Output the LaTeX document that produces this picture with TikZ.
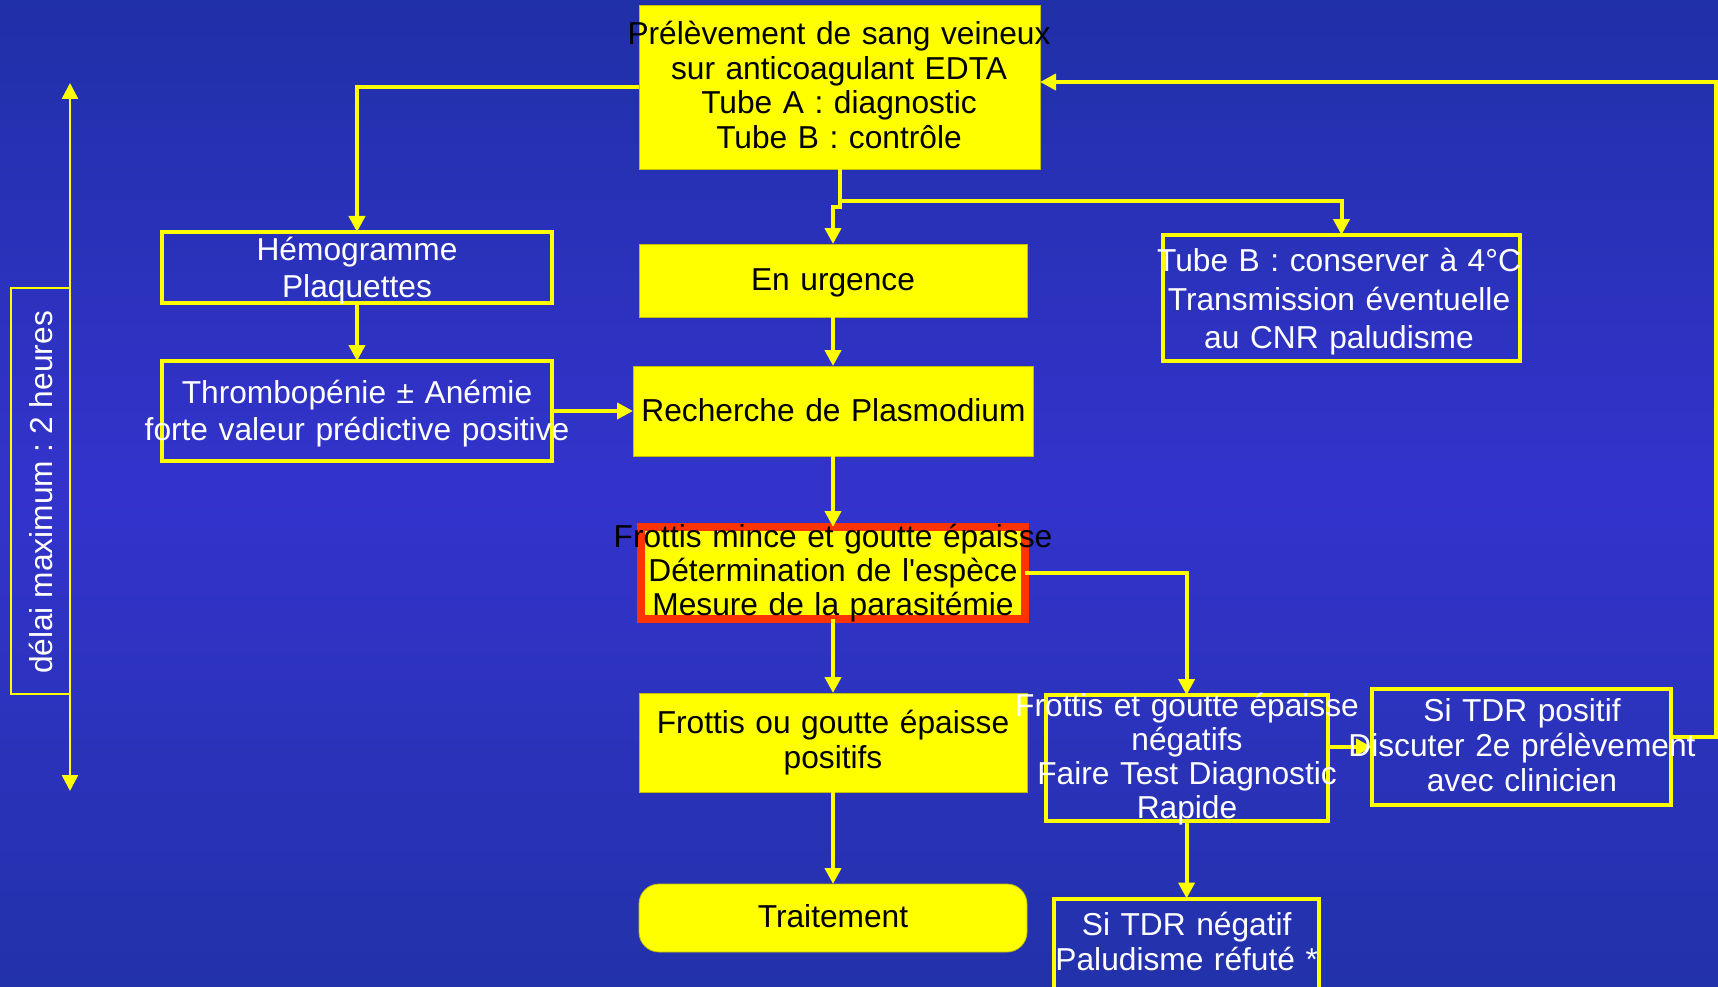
\documentclass[tikz,border=0pt]{standalone}
\usepackage{fontspec}
\setmainfont{Liberation Sans}[Ligatures=TeXOff]
\usetikzlibrary{arrows.meta,calc}
\definecolor{bgtop}{RGB}{32,48,168}
\definecolor{bgmid}{RGB}{51,51,204}
\definecolor{bgbot}{RGB}{34,50,170}
\definecolor{ylw}{RGB}{255,255,0}
\definecolor{redb}{RGB}{255,51,0}
\frenchspacing
\begin{document}
\begin{tikzpicture}[x=1pt,y=-1pt,
  ybox/.style={rectangle,fill=ylw,draw=ylw!75!black,line width=0.8pt,inner sep=0pt,outer sep=0pt},
  wbox/.style={rectangle,draw=ylw,line width=4pt,inner sep=0pt,outer sep=0pt},
  txt/.style={anchor=base,inner sep=0pt,text width=700pt,align=center},
  btxt/.style={txt,text=black,font=\fontsize{31.7}{34.5}\selectfont\frenchspacing},
  wtxt/.style={txt,text=white,font=\fontsize{31.7}{34.5}\selectfont\frenchspacing},
  conn/.style={draw=ylw,line width=4pt,-{Triangle[width=16pt,length=16pt]}},
]
\useasboundingbox (0,0) rectangle (1718,987);
\shade[top color=bgtop,bottom color=bgbot,middle color=bgmid] (0,0) rectangle (1718,987);
\clip (0,0) rectangle (1718,987);

% boxes
\node[ybox,minimum width=401pt,minimum height=164pt] (prel) at (839.5,87) {};
\node[ybox,minimum width=388pt,minimum height=73pt] (urg) at (833,280.5) {};
\node[ybox,minimum width=400pt,minimum height=90pt] (rech) at (833,411) {};
\node[rectangle,fill=ylw,draw=redb,line width=8pt,inner sep=0pt,outer sep=0pt,minimum width=384pt,minimum height=92pt] (frot) at (833,573) {};
\node[ybox,minimum width=388pt,minimum height=99pt] (pos) at (833,742.5) {};
\node[ybox,rounded corners=20pt,minimum width=388pt,minimum height=68pt] (trait) at (833,918) {};
\node[wbox,minimum width=390pt,minimum height=71pt] (hemo) at (357,267.5) {};
\node[wbox,minimum width=390pt,minimum height=100pt] (thrombo) at (357,411) {};
\node[wbox,minimum width=357pt,minimum height=126pt] (tubeB) at (1341.5,298) {};
\node[wbox,minimum width=282pt,minimum height=126pt] (fneg) at (1186.6,758) {};
\node[wbox,minimum width=299pt,minimum height=116pt] (tpos) at (1521.5,747) {};
\node[wbox,minimum width=265pt,minimum height=115pt] (tneg) at (1186.6,956) {};
\node[rectangle,draw=ylw,line width=2pt,inner sep=0pt,minimum width=59pt,minimum height=406pt] (delay) at (40.5,491) {};

% connectors
\coordinate (j1) at (839.5,207);
\coordinate (j2) at (833,207);
\draw[conn] (prel.south) -- (j1) -- (j2) -- (urg.north);
\coordinate (b1) at (839.5,201);
\draw[conn] (b1) -| (tubeB.north);
\draw[conn] (prel.west) -| (hemo.north);
\draw[conn] (hemo.south) -- (thrombo.north);
\draw[conn] (thrombo.east) -- (rech.west);
\draw[conn] (urg.south) -- (rech.north);
\draw[conn] (rech.south) -- (frot.north);
\draw[conn] (frot.south) -- (pos.north);
\draw[conn] (pos.south) -- (trait.north);
\draw[conn] (frot.east) -| (fneg.north);
\draw[conn] (fneg.east |- tpos.west) -- (tpos.west);
\draw[conn] (fneg.south) -- (tneg.north);
\coordinate (l1) at (1716,737);
\coordinate (l2) at (1716,82);
\draw[conn] (tpos.east |- l1) -- (l1) -- (l2) -- (prel.east |- l2);
\coordinate (dtop) at (70,83);
\coordinate (dbot) at (70,791);
\draw[draw=ylw,line width=2.5pt,{Triangle[width=16pt,length=16pt]}-{Triangle[width=16pt,length=16pt]}] (dtop) -- (dbot);

% texts
\node[btxt] (prelT) at (839,45) {Prélèvement de sang veineux\\sur anticoagulant EDTA\\Tube A : diagnostic\\Tube B : contrôle};
\node[btxt] (urgT) at (833,290) {En urgence};
\node[btxt] (rechT) at (833.5,421) {Recherche de Plasmodium};
\node[btxt,font=\fontsize{31.7}{34}\selectfont\frenchspacing] (frotT) at (833,547) {Frottis mince et goutte épaisse\\Détermination de l'espèce\\Mesure de la parasitémie};
\node[btxt,font=\fontsize{31.7}{35}\selectfont\frenchspacing] (posT) at (833,733.3) {Frottis ou goutte épaisse\\positifs};
\node[btxt] (traitT) at (833,927) {Traitement};
\node[wtxt,font=\fontsize{31.7}{37.3}\selectfont\frenchspacing] (hemoT) at (357,260) {Hémogramme\\Plaquettes};
\node[wtxt,font=\fontsize{31.7}{36.7}\selectfont\frenchspacing] (thromboT) at (357,403.3) {Thrombopénie ± Anémie\\forte valeur prédictive positive};
\node[wtxt,font=\fontsize{31.7}{38.3}\selectfont\frenchspacing] (tubeBT) at (1339,271.7) {Tube B : conserver à 4°C\\Transmission éventuelle\\au CNR paludisme};
\node[wtxt,font=\fontsize{31.7}{34}\selectfont\frenchspacing] (fnegT) at (1187,716.7) {Frottis et goutte épaisse\\négatifs\\Faire Test Diagnostic\\Rapide};
\node[wtxt,font=\fontsize{31.7}{34.7}\selectfont\frenchspacing] (tposT) at (1522,721.7) {Si TDR positif\\Discuter 2e prélèvement\\avec clinicien};
\node[wtxt,font=\fontsize{31.7}{35}\selectfont\frenchspacing] (tnegT) at (1186.7,935) {Si TDR négatif\\Paludisme réfuté *};
\node[rotate=90,anchor=base,inner sep=0pt,text=white,font=\fontsize{31.7}{34.5}\selectfont\frenchspacing] (delayT) at (52,492.5) {délai maximum : 2 heures};
\end{tikzpicture}
\end{document}
